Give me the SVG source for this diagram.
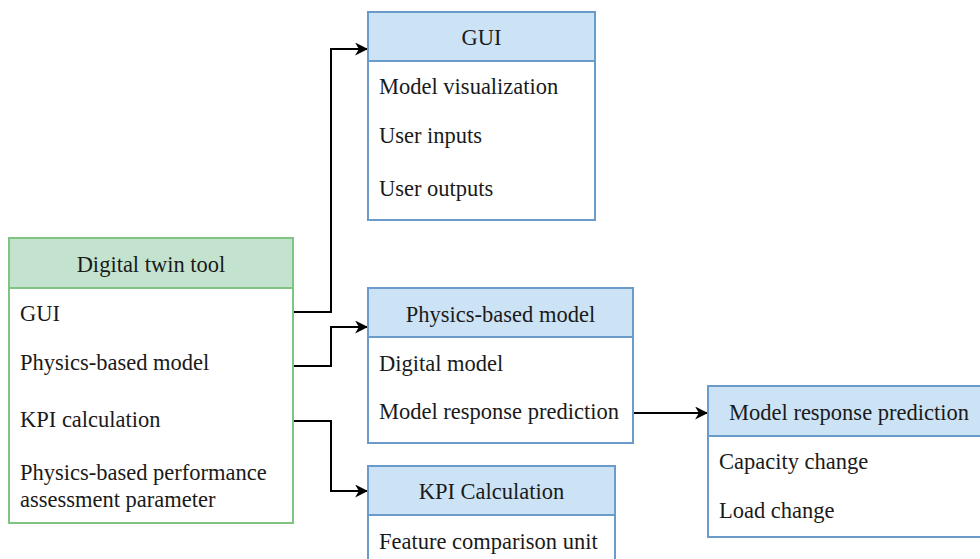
<svg xmlns="http://www.w3.org/2000/svg" width="980" height="559" viewBox="0 0 980 559" font-family="'Liberation Serif', 'Times New Roman', 'DejaVu Serif', serif">
<style>
text{font-family:'Liberation Serif','Times New Roman','DejaVu Serif',serif;font-size:22.5px;fill:#1a1a1a}
.c{text-anchor:middle}
.gh{fill:#c3e3cf;stroke:#80c482;stroke-width:2}
.gb{fill:#ffffff;stroke:#80c482;stroke-width:2}
.bh{fill:#cce3f5;stroke:#6a9bcb;stroke-width:2}
.bb{fill:#ffffff;stroke:#6a9bcb;stroke-width:2}
.e{fill:none;stroke:#000;stroke-width:2;marker-end:url(#a)}
</style>
<defs>
<marker id="a" viewBox="0 0 12 12" refX="11" refY="6" markerWidth="13" markerHeight="13" orient="auto" markerUnits="userSpaceOnUse">
<path d="M0,0 L12,6 L0,12 L3.5,6 Z" fill="#000"/>
</marker>
</defs>
<rect width="980" height="559" fill="#fff"/>
<g id="edges">
<path class="e" d="M293,312 H331 V49 H367"/>
<path class="e" d="M293,366 H331 V327 H367"/>
<path class="e" d="M293,421 H331 V491 H367"/>
<path class="e" d="M633,413 H707"/>
</g>
<g id="digital-twin-tool">
<rect class="gb" x="9" y="238" width="284" height="285"/>
<rect class="gh" x="9" y="238" width="284" height="50"/>
<text class="c" x="151" y="272">Digital twin tool</text>
<text x="20" y="321">GUI</text>
<text x="20" y="370">Physics-based model</text>
<text x="20" y="427">KPI calculation</text>
<text x="20" y="480">Physics-based performance</text>
<text x="20" y="507">assessment parameter</text>
</g>
<g id="gui">
<rect class="bb" x="368" y="12" width="227" height="208"/>
<rect class="bh" x="368" y="12" width="227" height="49"/>
<text class="c" x="481.500" y="45">GUI</text>
<text x="379" y="94">Model visualization</text>
<text x="379" y="143">User inputs</text>
<text x="379" y="196">User outputs</text>
</g>
<g id="physics-based-model">
<rect class="bb" x="368" y="288" width="265" height="155"/>
<rect class="bh" x="368" y="288" width="265" height="49"/>
<text class="c" x="500.500" y="322">Physics-based model</text>
<text x="379" y="371">Digital model</text>
<text x="379" y="419">Model response prediction</text>
</g>
<g id="kpi-calculation">
<rect class="bb" x="368" y="466" width="247" height="110"/>
<rect class="bh" x="368" y="466" width="247" height="49"/>
<text class="c" x="491.500" y="499">KPI Calculation</text>
<text x="379" y="549">Feature comparison unit</text>
</g>
<g id="model-response-prediction">
<rect class="bb" x="708" y="386" width="282" height="151"/>
<rect class="bh" x="708" y="386" width="282" height="50"/>
<text class="c" x="849" y="420">Model response prediction</text>
<text x="719" y="469">Capacity change</text>
<text x="719" y="518">Load change</text>
</g>
</svg>
